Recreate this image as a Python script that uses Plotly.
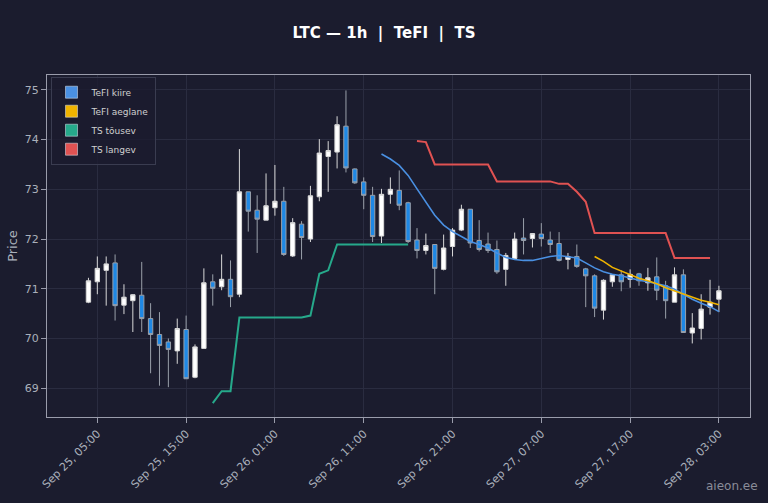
import plotly.graph_objects as go
import pandas as pd

times = pd.date_range("2025-09-25 04:00", periods=72, freq="h")
opens  = [70.73,71.14,71.37,71.52,70.67,70.76,70.87,70.40,70.08,69.93,69.75,70.18,69.22,69.80,71.14,71.04,71.19,70.89,72.95,72.58,
          72.38,72.63,72.76,71.66,72.30,72.00,72.85,73.66,73.75,74.27,73.41,73.15,72.88,72.06,72.90,72.98,72.73,71.98,71.77,71.89,
          71.39,71.85,72.18,72.60,71.97,71.90,71.79,71.39,71.61,72.02,72.01,72.10,71.98,71.91,71.59,71.65,71.40,71.26,70.57,71.14,
          71.28,71.19,71.30,71.12,71.24,71.06,70.73,71.28,70.11,70.20,70.63,70.79]
closes = [71.16,71.41,71.50,70.66,70.83,70.88,70.40,70.08,69.86,69.78,70.20,69.19,69.83,71.12,71.01,71.19,70.84,72.95,72.56,72.40,
          72.67,72.76,71.69,72.33,72.03,72.87,73.73,73.78,74.30,73.43,73.13,72.88,72.05,72.90,73.00,72.68,71.95,71.77,71.87,71.41,
          71.82,72.18,72.60,71.92,71.79,71.77,71.34,71.67,72.00,71.97,72.11,72.01,71.89,71.57,71.65,71.45,71.26,70.61,71.17,71.28,
          71.14,71.29,71.16,71.22,70.97,70.76,71.28,70.12,70.21,70.59,70.73,70.96]
highs  = [71.22,71.65,71.65,71.69,71.09,70.89,71.54,70.71,70.53,70.00,70.40,70.46,69.88,71.41,71.29,71.69,71.57,73.81,72.95,72.88,
          73.32,73.49,73.05,72.42,72.36,73.07,74.01,73.97,74.47,74.99,73.42,73.24,73.05,73.01,73.24,73.38,72.75,72.22,72.11,71.89,
          72.09,72.22,72.69,72.60,72.38,72.13,71.97,71.72,72.13,72.42,72.12,72.32,72.15,72.14,71.72,71.89,71.42,71.29,71.19,71.29,
          71.37,71.39,71.32,71.42,71.63,71.16,71.43,71.39,70.51,70.89,71.18,71.06]
lows   = [70.71,70.89,70.66,70.36,70.49,70.13,70.13,69.30,69.05,69.02,69.49,69.19,69.20,69.80,70.66,70.97,70.63,70.83,72.15,71.72,
          72.38,72.47,71.66,71.64,71.59,71.94,72.76,72.95,73.42,73.34,73.11,72.60,71.94,71.92,72.71,72.58,71.92,71.61,71.69,70.89,
          71.37,71.65,72.16,71.82,71.75,71.72,71.30,71.06,71.59,71.69,71.83,71.85,71.72,71.55,71.39,71.42,70.63,70.43,70.38,71.04,
          70.95,71.02,71.06,70.96,70.77,70.40,70.73,70.12,69.90,69.98,70.48,70.53]

N = None
ts_up = [N]*14 + [68.70,68.94,68.94,70.42,70.42,70.42,70.42,70.42,70.42,70.42,70.42,70.46,71.30,71.37,71.89,71.89,71.89,71.89,
                  71.89,71.89,71.89,71.89,71.89] + [N]*35
ts_dn = [N]*37 + [73.97,73.95,73.50,73.50,73.50,73.50,73.50,73.50,73.50,73.16,73.16,73.16,73.16,73.16,73.16,73.16,73.11,73.11,
                  72.95,72.75,72.12,72.12,72.12,72.12,72.12,72.12,72.12,72.12,72.12,71.62,71.62,71.62,71.62,71.62]
tefi_fast = [N]*33 + [73.71,73.61,73.48,73.28,73.01,72.75,72.48,72.28,72.15,72.05,71.95,71.89,71.82,71.72,71.63,71.59,71.57,71.57,
                      71.61,71.65,71.67,71.65,71.62,71.52,71.42,71.34,71.29,71.26,71.21,71.17,71.14,71.10,71.06,70.99,70.89,70.79,
                      70.71,70.64,70.54]
tefi_slow = [N]*57 + [71.65,71.55,71.43,71.36,71.28,71.21,71.16,71.10,71.02,70.96,70.89,70.83,70.77,70.73,70.68]

tick_vals = pd.date_range("2025-09-25 05:00", periods=8, freq="10h")
tick_text = [t.strftime("%b %d, %H:%M") for t in tick_vals]

BG = "#1b1c2e"
C_FAST, C_SLOW, C_UP, C_DN = "#4a90e2", "#f0b400", "#26a98b", "#e05252"

fig = go.Figure()
fig.add_trace(go.Candlestick(x=times, open=opens, high=highs, low=lows, close=closes,
    increasing=dict(line=dict(color="#d8d8d8", width=1), fillcolor="#ffffff"),
    decreasing=dict(line=dict(color="#9aa0aa", width=1), fillcolor="#1e88e5"),
    whiskerwidth=0, showlegend=False))
for y, c, w in [(ts_up, C_UP, 2), (ts_dn, C_DN, 2), (tefi_fast, C_FAST, 1.6), (tefi_slow, C_SLOW, 1.6)]:
    fig.add_trace(go.Scatter(x=times, y=y, mode="lines", line=dict(color=c, width=w), showlegend=False, hoverinfo="skip"))
for name, c in [("TeFI kiire", C_FAST), ("TeFI aeglane", C_SLOW), ("TS tõusev", C_UP), ("TS langev", C_DN)]:
    fig.add_trace(go.Bar(x=[None], y=[None], name=name, marker_color=c))

fig.update_layout(
    width=768, height=503, paper_bgcolor=BG, plot_bgcolor=BG,
    margin=dict(l=47, r=18, t=75, b=80),
    title=dict(text="<b>LTC — 1h  |  TeFI  |  TS</b>", x=0.5, y=0.945, xanchor="center",
               font=dict(color="white", size=15, family="DejaVu Sans")),
    font=dict(color="#aab0bb", family="DejaVu Sans", size=11),
    legend=dict(x=0.005, y=0.995, xanchor="left", yanchor="top", bgcolor="rgba(27,28,46,0.8)",
                bordercolor="#3a3c50", borderwidth=1, font=dict(size=9, color="#d0d0d0"), tracegroupgap=0,
                itemwidth=30),
    xaxis=dict(range=["2025-09-24 23:20", "2025-09-28 06:30"], tickvals=tick_vals, ticktext=tick_text,
               tickangle=-45, gridcolor="#2a2c40", showline=True, linecolor="#9a9cab", mirror=True,
               rangeslider=dict(visible=False), ticks="outside", tickcolor="#9a9cab", zeroline=False),
    yaxis=dict(range=[68.42, 75.3], dtick=1, gridcolor="#2a2c40", showline=True, linecolor="#9a9cab",
               mirror=True, ticks="outside", tickcolor="#9a9cab", zeroline=False,
               title=dict(text="Price", standoff=4)),
    annotations=[dict(text="aieon.ee", x=1, y=0, xref="paper", yref="paper", xanchor="right", yanchor="top",
                      yshift=-60, xshift=10, showarrow=False, font=dict(color="#8a8c99", size=12))],
)
fig.write_html("out.html", config={"displayModeBar": False},
               post_script="document.body.style.margin='0';document.body.style.background='#1b1c2e';")
